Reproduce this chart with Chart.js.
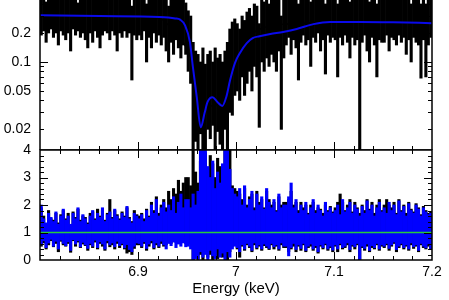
<!DOCTYPE html>
<html>
<head>
<meta charset="utf-8">
<script src="https://cdn.jsdelivr.net/npm/chart.js@4.4.0/dist/chart.umd.min.js"></script>
<style>
  html, body { margin: 0; padding: 0; background: #fff; }
  body { width: 449px; height: 300px; position: relative; overflow: hidden; }
  #wrapTop { position: absolute; left: 0; top: -30px; }
  #wrapBot { position: absolute; left: 0; top: 140px; }
</style>
</head>
<body>
<div id="wrapTop"><canvas id="spekChart" width="449" height="180"></canvas></div>
<div id="wrapBot"><canvas id="ratioChart" width="449" height="160"></canvas></div>
<script>
// energy grid: 160 bins of 2.5 eV starting at 6.8 keV
const binStart = 6.8;
const binStep = 0.0025;

// top panel - spectrum error bars (lower / upper end)
const specLo = [
  .19,.21,.16,.2,.22,.18,.2,.15,.21,.19,.17,.2,.13,.22,.19,.21,.18,.2,.17,.14,
  .2,.16,.21,.18,.14,.19,.21,.2,.17,.21,.19,.13,.2,.18,.21,.18,.2,.065,.19,.17,
  .19,.17,.21,.1,.18,.14,.2,.16,.19,.15,.18,.13,.1,.16,.12,.17,.14,.11,.15,.12,
  .08,.06,.009,.015,.01,.018,.012,.008,.02,.016,.022,.01,.019,.014,.008,.02,.01,.03,.028,.045,
  .05,.04,.07,.045,.06,.08,.05,.09,.07,.021,.1,.08,.11,.09,.12,.1,.08,.13,.02,.11,
  .15,.18,.12,.17,.14,.065,.16,.19,.15,.17,.09,.18,.16,.2,.13,.17,.075,.19,.16,.18,
  .17,.07,.18,.15,.19,.16,.11,.18,.15,.17,.005,.16,.19,.13,.1,.18,.15,.07,.17,.16,
  .16,.19,.13,.18,.17,.15,.19,.16,.18,.12,.17,.1,.18,.16,.15,.068,.17,.07,.15,.18
];
const specHi = [
  .5,.46,.42,.55,.48,.52,.47,.6,.47,.5,.5,.53,.49,.45,.58,.41,.5,.47,.55,.49,
  .52,.45,.6,.48,.5,.5,.55,.47,.5,.46,.56,.46,.52,.49,.48,.58,.5,.38,.47,.53,
  .5,.55,.46,.4,.49,.47,.52,.47,.44,.5,.45,.48,.38,.48,.46,.46,.5,.44,.45,.41,
  .34,.3,.16,.13,.12,.1,.14,.095,.12,.13,.1,.14,.11,.12,.1,.13,.16,.22,.26,.28,
  .25,.22,.3,.27,.33,.36,.3,.4,.38,.25,.45,.42,.5,.4,.47,.52,.44,.55,.3,.5,
  .45,.52,.46,.48,.5,.4,.5,.55,.46,.5,.42,.52,.47,.6,.47,.5,.4,.55,.48,.5,
  .48,.4,.52,.47,.55,.47,.42,.5,.46,.5,.45,.48,.56,.48,.42,.52,.47,.4,.5,.46,
  .5,.55,.47,.52,.48,.46,.56,.5,.53,.44,.5,.4,.55,.49,.47,.4,.52,.4,.46,.53
];

// models
const blueModelE = [6.8,6.861,6.922,6.938,6.943,6.948,6.953,6.956,6.96,6.964,6.968,6.971,6.976,6.981,6.986,6.99,6.994,6.999,7.004,7.011,7.017,7.024,7.035,7.048,7.062,7.079,7.096,7.127,7.16,7.2];
const blueModel  = [0.305,0.3,0.293,0.283,0.275,0.24,0.161,0.089,0.043,0.021,0.0297,0.0385,0.043,0.0385,0.035,0.043,0.065,0.098,0.124,0.157,0.177,0.185,0.195,0.205,0.22,0.247,0.26,0.26,0.258,0.253];
const blackModelE = [6.8,6.9,6.915,6.922,6.931,6.941,6.949,6.955,6.96,6.965,6.975,6.985,6.995,7.005,7.015,7.03,7.06,7.1,7.2];
const blackModel  = [0.305,0.296,0.29,0.285,0.242,0.19,0.143,0.1,0.065,0.045,0.035,0.04,0.07,0.13,0.19,0.23,0.25,0.26,0.255];

// bottom panel - ratio error bars
const ratioBlueLo = [
  .55,.7,.45,.62,.75,.5,.68,.4,.72,.6,.52,.66,.35,.74,.58,.7,.48,.64,.55,.42,
  .6,.5,.72,.45,.66,.58,.4,.7,.55,.62,.48,.68,.52,.6,.44,.56,.38,.3,.5,.62,
  .6,.5,.66,.42,.58,.7,.45,.62,.5,.68,.55,.4,.6,.52,.65,.45,.58,.5,.62,.48,
  .5,.4,0,.05,0,.3,.1,.2,0,.35,.15,.05,.4,.1,.25,0,.3,.1,.4,.5,
  .45,.3,.55,.4,.6,.5,.35,.62,.45,.55,.4,.58,.5,.42,.6,.48,.55,.4,.62,.5,
  .5,.15,.45,.6,.38,.55,.42,.6,.35,.5,.58,.4,.52,.3,.55,.45,.6,.4,.5,.36,
  .55,.4,.6,.45,.5,.62,.38,.55,.48,.6,0,.5,.42,.58,.35,.52,.45,.6,.4,.55,
  .5,.6,.42,.55,.65,.38,.5,.6,.45,.55,.4,.62,.48,.55,.35,.6,.5,.44,.58,.42
];
const ratioBlueHi = [
  2.0,1.5,1.35,1.7,1.55,1.4,1.75,1.3,1.6,1.85,1.45,1.6,1.3,1.7,1.5,1.9,1.4,1.65,1.5,1.3,
  1.6,1.8,1.45,1.7,1.55,1.9,1.4,1.65,1.75,1.5,1.85,1.6,1.45,1.7,1.55,1.95,1.5,1.35,1.7,1.6,
  1.5,1.65,1.4,1.8,1.55,2.0,1.7,2.2,1.6,1.9,2.1,1.75,2.0,1.8,2.3,1.7,2.1,2.4,1.9,2.2,
  2.2,1.9,2.4,2.0,2.5,4.5,4.5,4.2,3.4,3.0,3.6,2.6,3.2,2.8,3.5,4.5,4.5,3.3,2.6,2.4,
  2.3,2.6,2.0,2.7,1.9,2.2,2.5,1.8,2.4,2.0,2.3,1.85,2.6,2.1,1.9,2.2,1.75,2.4,1.9,2.0,
  2.0,2.3,2.8,1.9,2.2,1.7,2.0,1.8,2.1,1.65,1.9,2.2,1.7,2.0,1.8,1.6,2.1,1.75,1.9,1.7,
  1.8,2.0,1.65,2.2,1.75,1.9,2.1,1.7,2.0,1.85,1.6,1.95,1.7,2.15,1.8,2.0,1.6,1.9,2.1,1.75,
  1.9,1.7,2.1,1.8,2.0,1.65,2.15,1.75,1.95,1.6,2.05,1.8,1.7,2.0,1.85,1.6,1.9,1.75,1.65,1.7
];
const ratioBlackLo = [
  .5,.62,.4,.55,.7,.48,.6,.3,.68,.55,.5,.6,.28,.7,.5,.65,.45,.58,.52,.35,
  .55,.45,.65,.4,.6,.5,.35,.62,.48,.55,.4,.6,.45,.55,.4,.25,.3,.2,.42,.55,
  .55,.45,.6,.35,.5,.62,.4,.55,.45,.6,.5,.55,.7,.6,.8,.65,.75,.7,.85,.6,
  .8,.6,0,.1,.05,.2,0,.3,.1,.2,0,.4,.05,.3,.1,.2,0,.3,.5,.55,
  .4,.1,.5,.35,.55,.45,.3,.55,.4,.5,.35,.52,.45,.38,.55,.4,.5,.35,.55,.45,
  .45,.3,.4,.5,.3,.5,.35,.55,.3,.45,.5,.35,.45,.25,.5,.4,.55,.35,.45,.3,
  .5,.3,.55,.4,.45,.55,.3,.5,.4,.55,0,.45,.35,.5,.3,.45,.4,.55,.35,.5,
  .45,.55,.35,.5,.6,.3,.45,.55,.4,.5,.35,.55,.42,.5,.3,.55,.45,.4,.5,.38
];
const ratioBlackHi = [
  1.9,1.6,1.3,1.8,1.5,1.45,1.7,1.35,1.65,1.8,1.5,1.7,1.25,1.75,1.55,1.85,1.45,1.6,1.55,1.35,
  1.7,1.75,1.5,1.85,1.6,1.8,1.45,1.7,2.2,1.55,1.8,1.65,1.5,1.75,1.6,1.9,1.55,1.4,1.8,1.65,
  1.6,1.7,1.5,1.85,1.6,2.1,1.8,2.3,1.7,2.0,2.2,1.9,2.5,2.2,2.6,2.4,2.9,2.5,2.8,3.0,
  3.0,2.7,4.5,3.2,2.8,3.6,4.5,3.9,3.3,3.8,3.5,3.0,3.7,3.4,2.9,4.5,4.5,4.5,2.7,2.6,
  2.5,2.4,2.2,2.6,2.0,2.3,2.4,1.9,2.5,2.1,2.2,1.9,2.5,2.2,2.0,2.1,1.8,2.3,2.0,2.1,
  2.1,2.2,2.5,2.0,2.1,1.8,2.1,1.9,2.0,1.7,2.0,2.1,1.8,1.9,1.85,1.7,2.0,1.8,1.95,1.75,
  1.9,2.1,2.4,2.1,1.8,2.0,2.2,1.75,2.1,1.9,1.7,2.0,1.8,2.2,1.85,2.1,1.7,2.0,2.2,1.8,
  2.0,2.2,2.0,1.9,2.1,1.7,2.2,1.8,2.0,1.7,2.1,1.85,1.75,2.05,1.9,1.65,1.95,1.8,1.7,1.75
];
const unityE = [6.8, 7.2];
const unity = [1, 1];

// ticks and labels
const xMinor = [6.82,6.84,6.86,6.88,6.92,6.94,6.96,6.98,7.02,7.04,7.06,7.08,7.12,7.14,7.16,7.18];
const xMajor = [6.9, 7.0, 7.1];
const xLabelVals = [6.9, 7.0, 7.1, 7.2];
const xLabels = ['6.9', '7', '7.1', '7.2'];
const topMinor = [0.02,0.03,0.04,0.05,0.06,0.07,0.08,0.09,0.2,0.3,0.4,0.5,0.6,0.7];
const topMajor = [0.1];
const topLabelVals = [0.02, 0.05, 0.1, 0.2, 0.5];
const topLabels = ['0.02', '0.05', '0.1', '0.2', '0.5'];
const botMinor = [0.2,0.4,0.6,0.8,1.2,1.4,1.6,1.8,2.2,2.4,2.6,2.8,3.2,3.4,3.6,3.8];
const botMajor = [1, 2, 3];
const botLabelVals = [0, 1, 2, 3, 4];
const botLabels = ['0', '1', '2', '3', '4'];

const binE = specLo.map((v, i) => binStart + (i + 0.5) * binStep);
const FONT = "'Liberation Sans', Arial, Helvetica, sans-serif";

function bars(lo, hi) {
  return lo.map((v, i) => ({ x: binE[i], y: [v, hi[i]] }));
}
function pts(xs, ys) {
  return xs.map((x, i) => ({ x: x, y: ys[i] }));
}
// fixed axis sizes so both panels line up, no label overhang padding
function fixWidth(s) {
  s.width = 40;
  s.paddingTop = 0; s.paddingBottom = 0;
}
function fixHeight(s) {
  s.height = 40;
  s.paddingLeft = 0; s.paddingRight = 0;
}

// inward tick marks on all four sides + frame
function tickFrame(yMinor, yMajor) {
  return {
    id: 'tickFrame',
    afterDatasetsDraw(chart) {
      const { ctx, chartArea: a, scales: { x, y } } = chart;
      ctx.save();
      ctx.strokeStyle = '#000';
      ctx.lineWidth = 1;
      ctx.beginPath();
      const xt = (vals, len) => vals.forEach(v => {
        const p = Math.round(x.getPixelForValue(v)) + 0.5;
        ctx.moveTo(p, a.bottom); ctx.lineTo(p, a.bottom - len);
        ctx.moveTo(p, a.top); ctx.lineTo(p, a.top + len);
      });
      const yt = (vals, len) => vals.forEach(v => {
        const p = Math.round(y.getPixelForValue(v)) + 0.5;
        ctx.moveTo(a.left, p); ctx.lineTo(a.left + len, p);
        ctx.moveTo(a.right, p); ctx.lineTo(a.right - len, p);
      });
      xt(xMinor, 4); xt(xMajor, 8);
      yt(yMinor, 4); yt(yMajor, 8);
      ctx.stroke();
      ctx.lineWidth = 1.5;
      ctx.strokeRect(a.left, a.top, a.right - a.left, a.bottom - a.top);
      ctx.restore();
    }
  };
}

Chart.defaults.font.family = FONT;
Chart.defaults.color = '#000';

new Chart(document.getElementById('spekChart'), {
  type: 'bar',
  data: {
    datasets: [
      { type: 'line', data: pts(blueModelE, blueModel), borderColor: 'rgb(10,10,235)', borderWidth: 2,
        pointRadius: 0, cubicInterpolationMode: 'monotone', order: 0 },
      { type: 'line', data: pts(blackModelE, blackModel), borderColor: '#000', borderWidth: 1.5,
        pointRadius: 0, cubicInterpolationMode: 'monotone', order: 1 },
      { data: bars(specLo, specHi), backgroundColor: '#000', borderWidth: 0,
        barPercentage: 1, categoryPercentage: 1, grouped: false, order: 2 }
    ]
  },
  options: {
    responsive: false,
    animation: false,
    layout: { padding: { top: 10, right: 17, left: 0, bottom: 0 } },
    plugins: { legend: { display: false }, tooltip: { enabled: false } },
    scales: {
      x: { type: 'linear', min: 6.8, max: 7.2, offset: false, display: false },
      y: {
        type: 'logarithmic', min: 0.01222, max: 0.709,
        afterBuildTicks: s => { s.ticks = topLabelVals.map(v => ({ value: v })); },
        afterFit: fixWidth,
        grid: { display: false, drawTicks: false },
        border: { display: false },
        ticks: { autoSkip: false, padding: 9, font: { size: 14 },
          callback: (v, i) => topLabels[i] }
      }
    }
  },
  plugins: [tickFrame(topMinor, topMajor)]
});

new Chart(document.getElementById('ratioChart'), {
  type: 'bar',
  data: {
    datasets: [
      { type: 'line', data: pts(unityE, unity), borderColor: 'rgb(40,200,60)', borderWidth: 1.5,
        pointRadius: 0, order: 0 },
      { data: bars(ratioBlueLo, ratioBlueHi), backgroundColor: 'rgb(0,0,255)', borderWidth: 0,
        barPercentage: 1, categoryPercentage: 1, grouped: false, order: 1 },
      { data: bars(ratioBlackLo, ratioBlackHi), backgroundColor: '#000', borderWidth: 0,
        barPercentage: 1, categoryPercentage: 1, grouped: false, order: 2 }
    ]
  },
  options: {
    responsive: false,
    animation: false,
    layout: { padding: { top: 10, right: 17, left: 0, bottom: 0 } },
    plugins: { legend: { display: false }, tooltip: { enabled: false } },
    scales: {
      x: {
        type: 'linear', min: 6.8, max: 7.2, offset: false,
        afterBuildTicks: s => { s.ticks = xLabelVals.map(v => ({ value: v })); },
        afterFit: fixHeight,
        grid: { display: false, drawTicks: false },
        border: { display: false },
        ticks: { autoSkip: false, maxRotation: 0, padding: 4, font: { size: 14 },
          callback: (v, i) => xLabels[i] },
        title: { display: true, text: 'Energy (keV)', font: { size: 15 }, padding: { top: 0, bottom: 2 } }
      },
      y: {
        type: 'linear', min: 0, max: 4,
        afterBuildTicks: s => { s.ticks = botLabelVals.map(v => ({ value: v })); },
        afterFit: fixWidth,
        grid: { display: false, drawTicks: false },
        border: { display: false },
        ticks: { autoSkip: false, padding: 9, font: { size: 14 },
          callback: (v, i) => botLabels[i] }
      }
    }
  },
  plugins: [tickFrame(botMinor, botMajor)]
});
</script>
</body>
</html>
